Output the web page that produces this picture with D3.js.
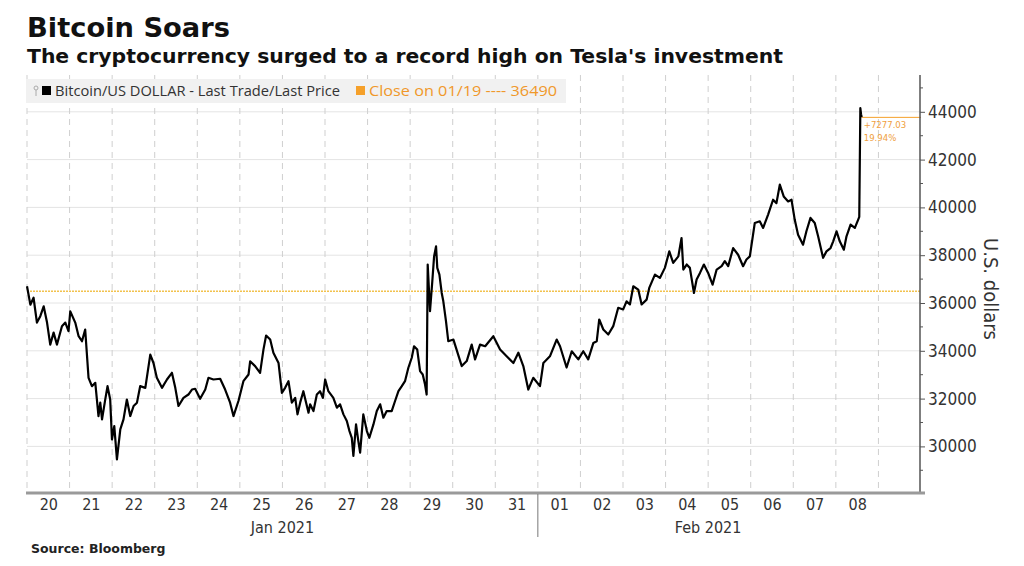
<!DOCTYPE html>
<meta charset="utf-8">
<script src="https://d3js.org/d3.v7.min.js"></script>
<style>
  body { margin: 0; background: #fff; }
  svg text { font-family: "DejaVu Sans Condensed", "DejaVu Sans", sans-serif; font-stretch: condensed; }
</style>
<div id="chart"></div>
<script>

// hours after 2021-01-20 00:00 UTC
const hours = [
  0, 1.9, 3.7, 5.6, 7.5, 9.4, 11.3, 13.1, 15.0, 16.9, 19.7, 21.6, 23.4, 24.4, 27.2, 29.1,
  31.0, 32.8, 34.7, 36.6, 38.5, 40.3, 41.3, 42.3, 44.1, 45.4, 46.9, 47.9, 49.2, 50.7, 52.6,
  54.4, 56.3, 58.2, 60.1, 62.0, 63.8, 66.7, 69.5, 71.3, 73.2, 76.1, 78.9, 81.7, 83.6, 85.4,
  88.2, 91.0, 93.0, 94.8, 97.6, 100.5, 102.3, 105.1, 108.9, 111.7, 114.5, 116.4, 119.2,
  122.0, 124.9, 125.8, 128.6, 131.4, 133.3, 134.8, 137.1, 138.9, 141.8, 143.7, 145.5,
  147.4, 149.3, 151.2, 152.5, 154.0, 155.8, 158.7, 159.6, 161.5, 163.4, 165.2, 166.8,
  168.1, 169.9, 172.7, 174.7, 176.5, 178.4, 180.3, 181.8, 183.1, 184.0, 185.5, 186.8,
  187.8, 189.6, 191.6, 193.0, 195.3, 197.2, 199.1, 200.9, 202.8, 205.6, 207.5, 209.4,
  211.3, 213.1, 215.0, 216.9, 218.2, 220.0, 221.6, 223.1, 224.4, 225.3, 225.9, 227.2,
  228.5, 229.5, 230.6, 231.3, 232.5, 233.8, 234.7, 236.2, 237.5, 240.4, 245.1, 247.9,
  250.7, 252.6, 255.4, 258.3, 262.9, 266.7, 270.4, 274.2, 277.0, 279.8, 282.6, 285.4,
  289.2, 291.1, 294.8, 298.6, 300.5, 304.2, 307.1, 310.8, 313.6, 316.4, 319.3, 321.2,
  322.6, 324.9, 327.7, 330.5, 333.3, 336.1, 338.0, 339.9, 341.8, 344.6, 346.5, 349.3,
  350.8, 354.0, 356.8, 359.6, 362.1, 364.3, 367.2, 369.0, 370.0, 371.9, 373.7, 376.0,
  377.5, 379.4, 381.6, 384.0, 386.5, 388.8, 391.6, 393.4, 395.3, 398.1, 400.9, 403.7,
  405.6, 407.5, 410.3, 413.1, 415.0, 417.8, 420.6, 422.5, 424.4, 426.6, 429.1, 431.0,
  432.8, 434.7, 437.5, 439.4, 441.7, 444.1, 446.0, 448.8, 450.7, 453.0, 454.5, 456.4,
  458.2, 460.5, 462.0, 464.3, 466.7, 468.6, 469.2, 469.8, 470.2, 470.6
];

// Bitcoin/US dollar last price
const prices = [
  36700, 35930, 36220, 35180, 35450, 35860, 35180, 34260, 34760, 34260, 35030, 35180, 34820, 35650, 35180, 34610,
  34400, 34890, 32870, 32520, 32660, 31270, 31830, 31130, 31960, 32520, 31960, 30290, 30850, 29460, 30710,
  31130, 31960, 31270, 31690, 31830, 32520, 32450, 33840, 33490, 32870, 32450, 32800, 33080, 32450, 31690,
  32030, 32170, 32380, 32410, 31990, 32380, 32870, 32800, 32830, 32380, 31830, 31270, 31900,
  32730, 33010, 33560, 33360, 33080, 34050, 34640, 34470, 33920, 33490, 32240, 32450,
  32730, 31830, 32030, 31340, 31830, 32310, 31410, 31760, 31480, 32170, 32310, 32030,
  32800, 32310, 32030, 31620, 31760, 31340, 31060, 30640, 30360, 29600, 30920, 30220,
  29740, 31340, 30640, 30360, 30920, 31480, 31760, 31200, 31480, 31480, 31900, 32310,
  32520, 32730, 33290, 33710, 34190, 34050, 33150, 33010, 32590, 32170, 37610, 35660,
  36910, 37950, 38370, 37470, 37190, 36420, 36070, 35240, 34400, 34470, 33360, 33570,
  34260, 33640, 34260, 34190, 34610, 34050, 33770, 33490, 33920, 33360, 32380, 32870,
  32520, 33490, 33770, 34470, 34190, 33300, 33980, 33640, 33980, 33640, 34330, 34400,
  35310, 34890, 34680, 35030, 35800, 35730, 36070, 35940, 36700, 36560, 35940, 36140,
  36630, 37190, 37050, 37470, 38160, 37680, 37950, 38720, 37400, 37610, 37470, 36420,
  36980, 37260, 37610, 37260, 36770, 37400, 37540, 37750, 37540, 38300, 38020, 37540,
  37820, 37950, 39350, 39420, 39140, 39700, 40320, 40180, 40950, 40460, 40250, 40320,
  39490, 38860, 38440, 39000, 39560, 39350, 38790, 37890, 38160, 38300, 38580, 39000,
  38580, 38230, 38790, 39280, 39140, 39490, 39600, 44150, 43900, 43767.03
];

const closeValue = 36490;
const yMajorTicks = [30000, 32000, 34000, 36000, 38000, 40000, 42000, 44000];
const yMinorTicks = [29000, 31000, 33000, 35000, 37000, 39000, 41000, 43000, 45000];
const monthLabels = ["Jan 2021", "Feb 2021"];
const legendLabels = ["Bitcoin/US DOLLAR - Last Trade/Last Price", "Close on 01/19 ---- " + closeValue];

const width = 1024, height = 566;
const plotLeft = 27, plotRight = 921, plotTop = 75, plotBottom = 493;

const start = new Date(Date.UTC(2021, 0, 20));
const end = new Date(Date.UTC(2021, 1, 10));
const lastDay = new Date(Date.UTC(2021, 1, 9));
const data = hours.map((h, i) => ({date: new Date(start.getTime() + h * 3600e3), value: prices[i]}));

const svg = d3.select("#chart").append("svg")
  .attr("width", width)
  .attr("height", height);

const x = d3.scaleUtc().domain([start, end]).range([plotLeft, plotRight]);
const y = d3.scaleLinear().domain([28050, 45540]).range([plotBottom, plotTop]);

// titles
svg.append("text")
  .attr("x", 27).attr("y", 37)
  .style("font-family", "'DejaVu Sans', sans-serif").style("font-stretch", "normal")
  .style("font-weight", "bold").style("font-size", "27px").attr("fill", "#111")
  .attr("textLength", 203).attr("lengthAdjust", "spacingAndGlyphs")
  .text("Bitcoin Soars");
svg.append("text")
  .attr("x", 27).attr("y", 63)
  .style("font-family", "'DejaVu Sans', sans-serif").style("font-stretch", "normal")
  .style("font-weight", "bold").style("font-size", "19px").attr("fill", "#111")
  .attr("textLength", 756).attr("lengthAdjust", "spacingAndGlyphs")
  .text("The cryptocurrency surged to a record high on Tesla's investment");

// horizontal grid
svg.append("g").selectAll("line")
  .data(yMajorTicks)
  .join("line")
    .attr("x1", plotLeft).attr("x2", plotRight)
    .attr("y1", d => y(d)).attr("y2", d => y(d))
    .attr("stroke", "#e4e4e4").attr("stroke-width", 1);

// vertical dashed grid at day boundaries
const days = d3.utcDay.range(start, end);
svg.append("g").selectAll("line")
  .data(days)
  .join("line")
    .attr("x1", d => x(d)).attr("x2", d => x(d))
    .attr("y1", plotTop).attr("y2", plotBottom)
    .attr("stroke", "#cfcfcf").attr("stroke-width", 1)
    .attr("stroke-dasharray", "6,5");

// legend box
const legend = svg.append("g");
legend.append("rect")
  .attr("x", 26).attr("y", 79).attr("width", 540).attr("height", 24)
  .attr("fill", "#f1f1f1");
legend.append("circle").attr("cx", 36).attr("cy", 88).attr("r", 2).attr("fill", "none").attr("stroke", "#aaa");
legend.append("line").attr("x1", 36).attr("x2", 36).attr("y1", 90).attr("y2", 96).attr("stroke", "#aaa");
legend.append("rect").attr("x", 42).attr("y", 86).attr("width", 9).attr("height", 9).attr("fill", "#000");
legend.append("text")
  .attr("x", 55).attr("y", 96)
  .style("font-family", "'Open Sans', sans-serif").style("font-stretch", "normal")
  .style("font-size", "14.5px").attr("fill", "#333")
  .attr("textLength", 285).attr("lengthAdjust", "spacingAndGlyphs")
  .text(legendLabels[0]);
legend.append("rect").attr("x", 356).attr("y", 86).attr("width", 9).attr("height", 9).attr("fill", "#f5a02a");
legend.append("text")
  .attr("x", 369).attr("y", 96)
  .style("font-family", "'Open Sans', sans-serif").style("font-stretch", "normal")
  .style("font-size", "14.5px").attr("fill", "#f0982a")
  .attr("textLength", 188).attr("lengthAdjust", "spacingAndGlyphs")
  .text(legendLabels[1]);

// close reference line
svg.append("line")
  .attr("x1", plotLeft).attr("x2", plotRight)
  .attr("y1", y(closeValue)).attr("y2", y(closeValue))
  .attr("stroke", "#f2c24e").attr("stroke-width", 1.6)
  .attr("stroke-dasharray", "2,1");

// price line
svg.append("path")
  .datum(data)
  .attr("fill", "none")
  .attr("stroke", "#000")
  .attr("stroke-width", 2.2)
  .attr("stroke-linejoin", "round")
  .attr("d", d3.line().x(d => x(d.date)).y(d => y(d.value)));

// change annotation
const last = data[data.length - 1];
const change = last.value - closeValue;
svg.append("line")
  .attr("x1", x(last.date)).attr("x2", plotRight)
  .attr("y1", y(last.value)).attr("y2", y(last.value))
  .attr("stroke", "#f5a02a").attr("stroke-width", 1);
svg.append("text")
  .attr("x", x(last.date) + 2).attr("y", y(last.value) + 11)
  .style("font-size", "9.5px").attr("fill", "#f0a040")
  .text("+" + change.toFixed(2));
svg.append("text")
  .attr("x", x(last.date) + 2).attr("y", y(last.value) + 24)
  .style("font-size", "9.5px").attr("fill", "#f0a040")
  .text((change / closeValue * 100).toFixed(2) + "%");

// right axis
const yAxis = svg.append("g")
  .attr("transform", `translate(${plotRight - 1},0)`)
  .call(d3.axisRight(y).tickValues(yMajorTicks).tickSize(5).tickPadding(3).tickFormat(d3.format("d")));
yAxis.select(".domain").attr("d", `M0,${plotTop}V${plotBottom}`).attr("stroke", "#555").attr("stroke-width", 1.5);
yAxis.selectAll(".tick line").attr("stroke", "#555");
yAxis.selectAll(".tick text").style("font-size", "17px").attr("fill", "#333");
yAxis.append("g").selectAll("line")
  .data(yMinorTicks.filter(d => y(d) > plotTop))
  .join("line")
    .attr("x1", 0).attr("x2", 3)
    .attr("y1", d => y(d)).attr("y2", d => y(d))
    .attr("stroke", "#555");

svg.append("text")
  .attr("transform", `translate(984,${(plotTop + plotBottom) / 2 + 5}) rotate(90)`)
  .attr("text-anchor", "middle")
  .style("font-size", "20px").attr("fill", "#333")
  .text("U.S. dollars");

// bottom axis
const labelDays = d3.utcDay.range(start, lastDay);
const xAxis = svg.append("g")
  .attr("transform", `translate(0,${plotBottom})`)
  .call(d3.axisBottom(x)
    .tickValues(labelDays.map(d => d3.utcHour.offset(d, 12)))
    .tickSize(0).tickPadding(6)
    .tickFormat(d3.utcFormat("%d")));
xAxis.select(".domain").attr("d", `M${plotLeft - 1},0H${plotRight + 4}`).attr("stroke", "#9a9a9a").attr("stroke-width", 3);
xAxis.selectAll(".tick text").style("font-size", "16px").attr("fill", "#333");

// month labels and divider
const monthStarts = [start, new Date(Date.UTC(2021, 1, 1))];
const monthEnds = [new Date(Date.UTC(2021, 1, 1)), lastDay];
svg.append("g").selectAll("text")
  .data(monthLabels)
  .join("text")
    .attr("x", (d, i) => (x(monthStarts[i]) + x(monthEnds[i])) / 2)
    .attr("y", 533)
    .attr("text-anchor", "middle")
    .style("font-size", "16px").attr("fill", "#333")
    .text(d => d);
svg.append("line")
  .attr("x1", x(monthStarts[1])).attr("x2", x(monthStarts[1]))
  .attr("y1", plotBottom + 1).attr("y2", 537)
  .attr("stroke", "#777").attr("stroke-width", 1);

// source
svg.append("text")
  .attr("x", 31).attr("y", 553)
  .style("font-family", "'DejaVu Sans', sans-serif").style("font-stretch", "normal")
  .style("font-weight", "bold").style("font-size", "12.5px").attr("fill", "#222")
  .text("Source: Bloomberg");

</script>
